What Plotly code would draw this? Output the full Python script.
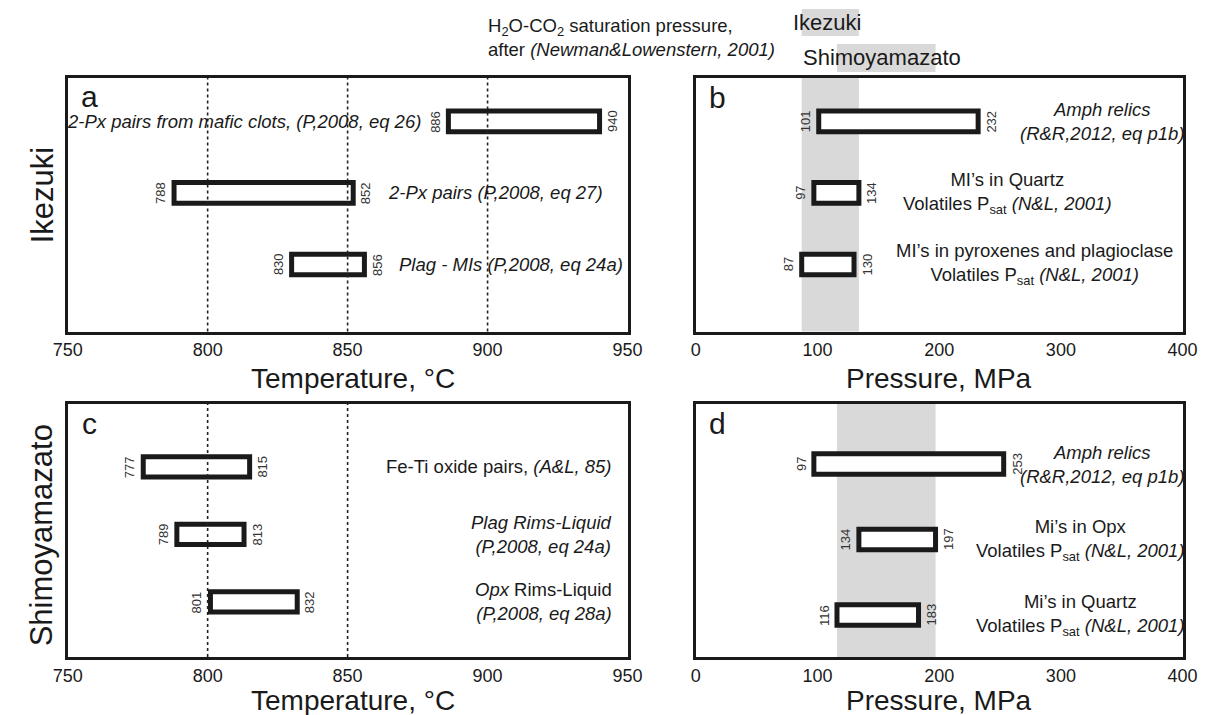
import plotly.graph_objects as go

# ---------------- data ----------------
temp_ticks = [750, 800, 850, 900, 950]
pres_ticks = [0, 100, 200, 300, 400]

a_labels = ["<i>2-Px pairs from mafic clots, (P,2008, eq 26)</i>",
            "<i>2-Px pairs (P,2008, eq 27)</i>",
            "<i>Plag - MIs (P,2008, eq 24a)</i>"]
a_lo = [886, 788, 830]
a_hi = [940, 852, 856]
a_ref = [800, 850, 900]

b_labels = ["<i>Amph relics</i><br><i>(R&amp;R,2012, eq p1b)</i>",
            "MI’s in Quartz<br>Volatiles P<sub>sat</sub> <i>(N&amp;L, 2001)</i>",
            "MI’s in pyroxenes and plagioclase<br>Volatiles P<sub>sat</sub> <i>(N&amp;L, 2001)</i>"]
b_lo = [101, 97, 87]
b_hi = [232, 134, 130]

c_labels = ["Fe-Ti oxide pairs, <i>(A&amp;L, 85)</i>",
            "<i>Plag Rims-Liquid</i><br><i>(P,2008, eq 24a)</i>",
            "<i>Opx</i> Rims-Liquid<br><i>(P,2008, eq 28a)</i>"]
c_lo = [777, 789, 801]
c_hi = [815, 813, 832]
c_ref = [800, 850]

d_labels = ["<i>Amph relics</i><br><i>(R&amp;R,2012, eq p1b)</i>",
            "Mi’s in Opx<br>Volatiles P<sub>sat</sub> <i>(N&amp;L, 2001)</i>",
            "Mi’s in Quartz<br>Volatiles P<sub>sat</sub> <i>(N&amp;L, 2001)</i>"]
d_lo = [97, 134, 116]
d_hi = [253, 197, 183]

# saturation-pressure bands (melt-inclusion ranges)
ike_band = [min(b_lo[1:]), max(b_hi[1:])]
shi_band = [min(d_lo[1:]), max(d_hi[1:])]

rows = [0, 1, 2]

# ---------------- layout helpers ----------------
W, H = 1220, 715
def fx(p):
    return p / W
def fy(p):
    return 1 - p / H

FONT = "Liberation Sans, Arial, sans-serif"
INK = "#1a1a1a"

fig = go.Figure()

panels = [
    ("a", "x", "y", a_lo, a_hi, a_labels, 0.29),
    ("b", "x2", "y2", b_lo, b_hi, b_labels, 0.29),
    ("c", "x3", "y3", c_lo, c_hi, c_labels, 0.30),
    ("d", "x4", "y4", d_lo, d_hi, d_labels, 0.27),
]

annotations = []
shapes = []

for name, xa, ya, lo, hi, labels, bw in panels:
    fig.add_trace(go.Bar(
        orientation="h", y=rows, x=[h - l for l, h in zip(lo, hi)], base=lo,
        width=bw, marker=dict(color="white", line=dict(color=INK, width=5)),
        xaxis=xa, yaxis=ya, showlegend=False, hoverinfo="skip"))
    for r, l, h in zip(rows, lo, hi):
        annotations.append(dict(x=l, y=r, xref=xa, yref=ya, text=str(l), showarrow=False,
                                textangle=-90, xshift=-13, font=dict(size=13, color="#333", family=FONT)))
        annotations.append(dict(x=h, y=r, xref=xa, yref=ya, text=str(h), showarrow=False,
                                textangle=-90, xshift=13, font=dict(size=13, color="#333", family=FONT)))

TXT = dict(size=18.5, color=INK, family=FONT)

# panel a row labels
a_side = ["left", "right", "right"]
for r, l, h, t, s in zip(rows, a_lo, a_hi, a_labels, a_side):
    if s == "left":
        annotations.append(dict(x=l, y=r, xref="x", yref="y", text=t, showarrow=False,
                                xanchor="right", xshift=-25, font=TXT))
    else:
        annotations.append(dict(x=h, y=r, xref="x", yref="y", text=t, showarrow=False,
                                xanchor="left", xshift=33, font=TXT))

# panel b row labels  (x, anchor, pixel shift)
b_pos = [(400, "right", 4), (256, "center", 0), (278, "center", 0)]
for r, t, (xp, anc, sh) in zip(rows, b_labels, b_pos):
    annotations.append(dict(x=xp, y=r, xref="x2", yref="y2", text=t, showarrow=False,
                            xanchor=anc, xshift=sh, align="center", font=TXT))

# panel c row labels
for r, t in zip(rows, c_labels):
    annotations.append(dict(x=945, y=r, xref="x3", yref="y3", text=t, showarrow=False,
                            xanchor="right", align="right", font=TXT))

# panel d row labels
for r, t in zip(rows, d_labels):
    annotations.append(dict(x=400, y=r, xref="x4", yref="y4", text=t, showarrow=False,
                            xanchor="right", xshift=4, align="center", font=TXT))

# dotted reference lines
for v in a_ref:
    shapes.append(dict(type="line", xref="x", yref="y domain", x0=v, x1=v, y0=0, y1=1,
                       line=dict(color="#222", width=1.6, dash="dot"), layer="above"))
for v in c_ref:
    shapes.append(dict(type="line", xref="x3", yref="y3 domain", x0=v, x1=v, y0=0, y1=1,
                       line=dict(color="#222", width=1.6, dash="dot"), layer="above"))

GRAY = "#d9d9d9"
shapes.append(dict(type="rect", xref="x2", yref="y2 domain", x0=ike_band[0], x1=ike_band[1],
                   y0=0, y1=1, fillcolor=GRAY, line=dict(width=0), layer="below"))
shapes.append(dict(type="rect", xref="x4", yref="y4 domain", x0=shi_band[0], x1=shi_band[1],
                   y0=0, y1=1, fillcolor=GRAY, line=dict(width=0), layer="below"))
shapes.append(dict(type="rect", xref="x2", yref="paper", x0=ike_band[0], x1=ike_band[1],
                   y0=fy(36), y1=fy(9), fillcolor=GRAY, line=dict(width=0), layer="below"))
shapes.append(dict(type="rect", xref="x2", yref="paper", x0=shi_band[0], x1=shi_band[1],
                   y0=fy(72), y1=fy(44), fillcolor=GRAY, line=dict(width=0), layer="below"))

# top texts
annotations.append(dict(x=fx(483), y=fy(37.5), xref="paper", yref="paper", xanchor="left",
                        yanchor="middle", align="left", showarrow=False,
                        text="H<sub>2</sub>O-CO<sub>2</sub> saturation pressure,<br>after <i>(Newman&amp;Lowenstern, 2001)</i>",
                        font=dict(size=18.5, color=INK, family=FONT)))
annotations.append(dict(x=fx(796), y=fy(23), xref="paper", yref="paper", xanchor="left",
                        yanchor="middle", showarrow=False, text="Ikezuki",
                        font=dict(size=22, color=INK, family=FONT)))
annotations.append(dict(x=fx(806), y=fy(58), xref="paper", yref="paper", xanchor="left",
                        yanchor="middle", showarrow=False, text="Shimoyamazato",
                        font=dict(size=22, color=INK, family=FONT)))

# axis titles
for xc, yc, t in [(347, 378, "Temperature, °C"), (947, 378, "Pressure, MPa"),
                  (347, 700, "Temperature, °C"), (947, 700, "Pressure, MPa")]:
    annotations.append(dict(x=fx(xc), y=fy(yc), xref="paper", yref="paper", xanchor="center",
                            yanchor="middle", showarrow=False, text=t,
                            font=dict(size=28, color=INK, family=FONT)))

# side titles
annotations.append(dict(x=fx(29), y=fy(195), xref="paper", yref="paper", textangle=-90,
                        xanchor="center", yanchor="middle",
                        showarrow=False, text="Ikezuki", font=dict(size=31, color=INK, family=FONT)))
annotations.append(dict(x=fx(27), y=fy(535), xref="paper", yref="paper", textangle=-90,
                        xanchor="center", yanchor="middle",
                        showarrow=False, text="Shimoyamazato", font=dict(size=31, color=INK, family=FONT)))

# panel letters
for letter, xl, yt in [("a", 66, 78), ("b", 709, 79), ("c", 67, 405), ("d", 709, 405)]:
    annotations.append(dict(x=fx(xl), y=fy(yt), xref="paper", yref="paper", xanchor="left",
                            yanchor="top", showarrow=False, text=letter,
                            font=dict(size=30, color=INK, family=FONT)))

xdom_l = [fx(54), fx(628)]
xdom_r = [fx(698), fx(1197)]
ydom_t = [fy(331.5), fy(77.5)]
ydom_b = [fy(657), fy(404)]

def xax(dom, rng, ticks, anchor):
    return dict(domain=dom, range=rng, tickvals=ticks, ticktext=[str(t) for t in ticks],
                showline=True, mirror=True, linecolor=INK, linewidth=3, showgrid=False,
                zeroline=False, ticks="", anchor=anchor, fixedrange=True,
                tickfont=dict(size=18, color=INK, family=FONT), ticklabelstandoff=0)

def yax(dom, rng, anchor):
    return dict(domain=dom, range=rng, showline=True, mirror=True, linecolor=INK, linewidth=3,
                showgrid=False, zeroline=False, showticklabels=False, ticks="", anchor=anchor,
                fixedrange=True)

fig.update_layout(
    width=W, height=H, margin=dict(l=0, r=0, t=0, b=0),
    paper_bgcolor="white", plot_bgcolor="white", showlegend=False,
    barmode="overlay",
    xaxis=xax(xdom_l, [750, 950], temp_ticks, "y"),
    yaxis=yax(ydom_t, [2.937, -0.615], "x"),
    xaxis2=xax(xdom_r, [0, 400], pres_ticks, "y2"),
    yaxis2=yax(ydom_t, [2.937, -0.615], "x2"),
    xaxis3=xax(xdom_l, [750, 950], temp_ticks, "y3"),
    yaxis3=yax(ydom_b, [2.815, -0.933], "x3"),
    xaxis4=xax(xdom_r, [0, 400], pres_ticks, "y4"),
    yaxis4=yax(ydom_b, [2.556, -0.795], "x4"),
    annotations=annotations, shapes=shapes,
)

fig.write_html("out.html")
